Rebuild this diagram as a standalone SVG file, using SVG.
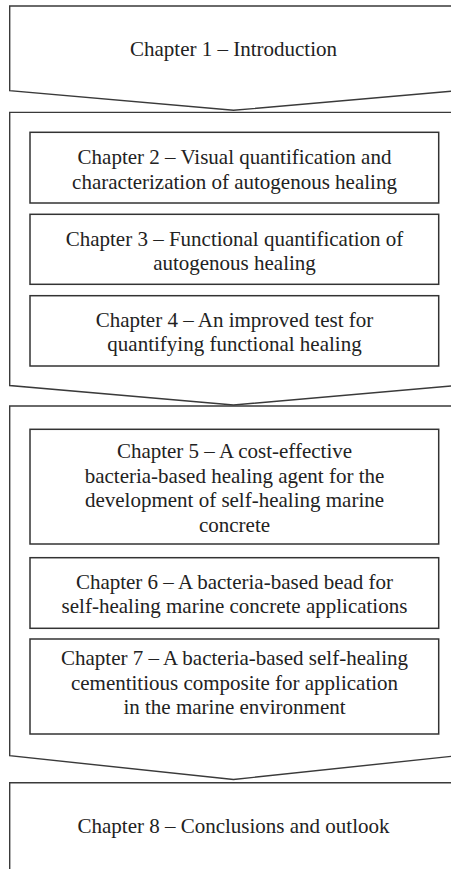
<svg xmlns="http://www.w3.org/2000/svg" width="451" height="869" viewBox="0 0 451 869">
<style>
.outer{fill:none;stroke:#3a3a3a;stroke-width:1.4;stroke-linejoin:miter}
.box{fill:none;stroke:#333;stroke-width:1.5}
text{font-family:"Liberation Serif","Times New Roman",serif;font-size:21px;fill:#222;text-anchor:middle}
</style>
<rect width="451" height="869" fill="#fff"/>
<g id="connectors"></g>
<g id="part1">
<path class="outer" d="M 460,6 L 9.7,6 L 9.7,90.7 L 233.5,110.3 L 457.3,90.7"/>
<text x="233.5" y="56">Chapter 1 – Introduction</text>
</g>
<g id="part2">
<path class="outer" d="M 460,112.4 L 9.7,112.4 L 9.7,385.5 L 233.5,405 L 457.3,385.5"/>
</g>
<g id="ch2">
<rect class="box" x="30" y="132.3" width="408.7" height="70.7"/>
<text x="234.5" y="164.3">Chapter 2 – Visual quantification and</text>
<text x="234.5" y="188.5">characterization of autogenous healing</text>
</g>
<g id="ch3">
<rect class="box" x="30" y="214.3" width="408.7" height="70"/>
<text x="234.5" y="245.7">Chapter 3 – Functional quantification of</text>
<text x="234.5" y="270">autogenous healing</text>
</g>
<g id="ch4">
<rect class="box" x="30" y="295.7" width="408.7" height="70.3"/>
<text x="234.5" y="326.5">Chapter 4 – An improved test for</text>
<text x="234.5" y="351">quantifying functional healing</text>
</g>
<g id="part3">
<path class="outer" d="M 460,406 L 9.7,406 L 9.7,755.7 L 233.5,779.5 L 457.3,755.7"/>
</g>
<g id="ch5">
<rect class="box" x="30" y="429.3" width="408.7" height="114.7"/>
<text x="234.5" y="458.3">Chapter 5 – A cost-effective</text>
<text x="234.5" y="482.7">bacteria-based healing agent for the</text>
<text x="234.5" y="507.1">development of self-healing marine</text>
<text x="234.5" y="531.5">concrete</text>
</g>
<g id="ch6">
<rect class="box" x="30" y="557.7" width="408.7" height="70.6"/>
<text x="234.5" y="588.5">Chapter 6 – A bacteria-based bead for</text>
<text x="234.5" y="612.5">self-healing marine concrete applications</text>
</g>
<g id="ch7">
<rect class="box" x="30" y="639" width="408.7" height="95"/>
<text x="234.5" y="665">Chapter 7 – A bacteria-based self-healing</text>
<text x="234.5" y="689.5">cementitious composite for application</text>
<text x="234.5" y="714">in the marine environment</text>
</g>
<g id="part4">
<path class="outer" d="M 460,782.7 L 9.7,782.7 L 9.7,875"/>
<text x="233.5" y="832.7">Chapter 8 – Conclusions and outlook</text>
</g>
</svg>
